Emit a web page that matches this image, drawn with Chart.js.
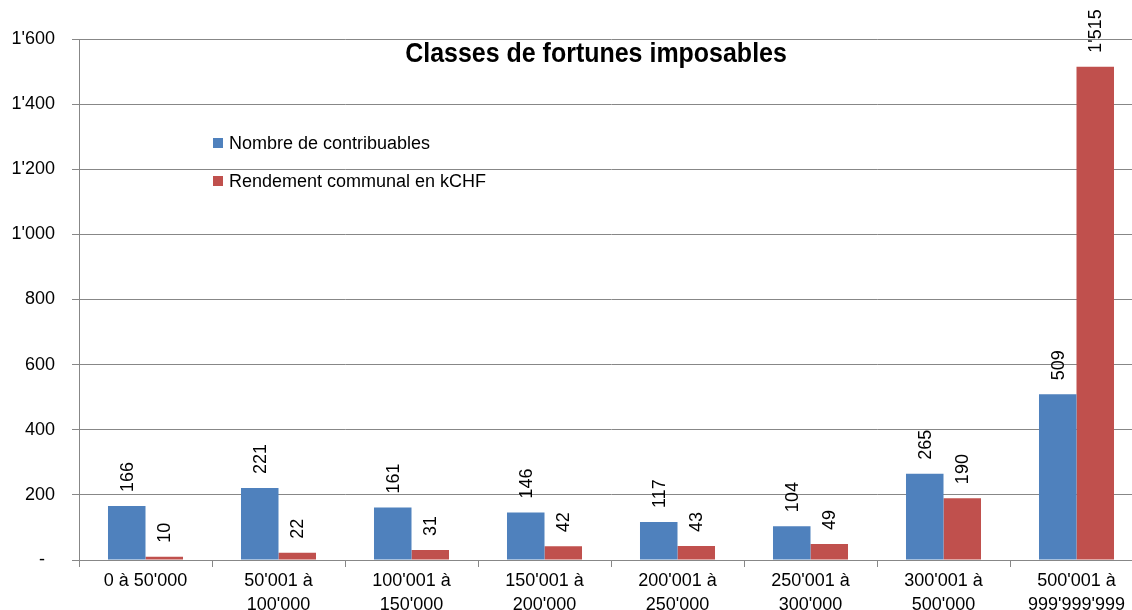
<!DOCTYPE html>
<html><head><meta charset="utf-8">
<script src="https://cdn.jsdelivr.net/npm/chart.js@4.4.1/dist/chart.umd.min.js"></script>
<style>html,body{margin:0;padding:0;background:#fff;overflow:hidden;}#wrap{width:1150px;height:610px;}</style>
</head><body><div id="wrap"><canvas id="c" width="1150" height="610"></canvas></div>
<script>
const categories = [["0 à 50'000"],["50'001 à","100'000"],["100'001 à","150'000"],["150'001 à","200'000"],["200'001 à","250'000"],["250'001 à","300'000"],["300'001 à","500'000"],["500'001 à","999'999'999"]];
const contribuables = [166,221,161,146,117,104,265,509];
const rendement = [10,22,31,42,43,49,190,1515];
const seriesNames = ["Nombre de contribuables","Rendement communal en kCHF"];
const chartTitle = "Classes de fortunes imposables";
const yMax = 1600, yStep = 200;

const FONT = "'Liberation Sans', Arial, sans-serif";
const fmt = v => String(Math.round(v)).replace(/\B(?=(\d{3})+(?!\d))/g, "'");
const GRID = '#878787';

const overlay = {
  id: 'overlay',
  afterDatasetsDraw(chart) {
    const ctx = chart.ctx;
    ctx.save();
    ctx.fillStyle = '#000';
    ctx.font = '18px ' + FONT;
    chart.data.datasets.forEach((ds, i) => {
      const meta = chart.getDatasetMeta(i);
      meta.data.forEach((bar, j) => {
        ctx.save();
        ctx.translate(bar.x, bar.y - 14);
        ctx.rotate(-Math.PI / 2);
        ctx.textAlign = 'left';
        ctx.textBaseline = 'middle';
        ctx.fillText(fmt(ds.data[j]), 0, 1);
        ctx.restore();
      });
    });
    // title
    ctx.save();
    ctx.font = 'bold 27px ' + FONT;
    ctx.textAlign = 'center';
    ctx.textBaseline = 'middle';
    ctx.translate(596, 55);
    ctx.scale(0.925, 1);
    ctx.fillText(chartTitle, 0, 0);
    ctx.restore();
    // legend
    ctx.font = '18px ' + FONT;
    ctx.textAlign = 'left';
    ctx.textBaseline = 'middle';
    const ly = [143, 181];
    chart.data.datasets.forEach((ds, i) => {
      ctx.fillStyle = ds.backgroundColor;
      ctx.fillRect(213, ly[i] - 5, 10, 10);
      ctx.fillStyle = '#000';
      ctx.fillText(ds.label, 229, ly[i] + 1);
    });
    ctx.restore();
  }
};

new Chart(document.getElementById('c'), {
  type: 'bar',
  data: {
    labels: categories,
    datasets: [
      { label: seriesNames[0], data: contribuables, backgroundColor: '#4F81BD' },
      { label: seriesNames[1], data: rendement, backgroundColor: '#C0504D' }
    ]
  },
  options: {
    responsive: false,
    animation: false,
    devicePixelRatio: 1,
    layout: { padding: { top: 39, right: 7, left: 0, bottom: 0 } },
    datasets: { bar: { categoryPercentage: 0.564, barPercentage: 1.0 } },
    plugins: { legend: { display: false }, title: { display: false }, tooltip: { enabled: false } },
    scales: {
      x: {
        grid: { offset: true, drawOnChartArea: false, color: GRID, tickLength: 7 },
        border: { color: GRID, width: 1 },
        ticks: { color: '#000', font: { family: FONT, size: 18, lineHeight: 1.28 }, padding: 3, maxRotation: 0, autoSkip: false },
        afterFit(s) { s.height = 50; }
      },
      y: {
        min: 0, max: yMax,
        grid: { color: GRID, tickLength: 7 },
        border: { color: GRID, width: 1 },
        ticks: { stepSize: yStep, color: '#000', font: { family: FONT, size: 18 }, padding: 17,
          callback: v => v === 0 ? '-  ' : fmt(v) },
        afterFit(s) { s.width = 79; }
      }
    }
  },
  plugins: [overlay]
});
</script></body></html>
